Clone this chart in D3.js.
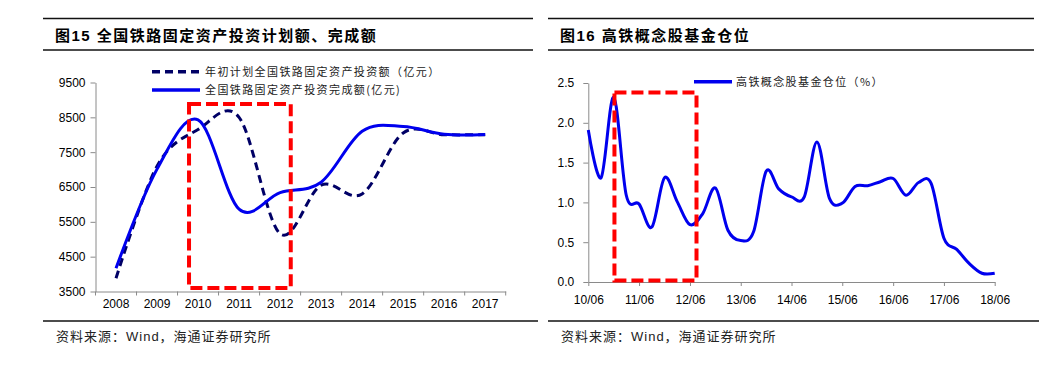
<!DOCTYPE html>
<html><head><meta charset="utf-8">
<script src="https://cdn.jsdelivr.net/npm/d3@7"></script>
<style>
body{margin:0;background:#fff;}
svg{display:block;}
.tick text{font-family:"Liberation Sans",Arial,sans-serif;font-size:12px;fill:#000;}
.axis path,.axis line{stroke:#8a8a8a;stroke-width:1;}
.ttl{font-family:"Liberation Sans","Noto Sans CJK SC",sans-serif;font-weight:bold;font-size:15px;letter-spacing:1.5px;fill:#000;}
.leg{font-family:"Noto Sans CJK SC",sans-serif;font-size:11px;letter-spacing:1.4px;fill:#222;}
.src{font-family:"Liberation Sans","Noto Sans CJK SC",sans-serif;font-size:13px;letter-spacing:1px;fill:#222;}
</style></head><body>
<svg id="c" width="1055" height="369"></svg>
<script>
// ---------- data: chart 15 ----------
const years = ["2008","2009","2010","2011","2012","2013","2014","2015","2016","2017"];
const planValues   = [3880, 7100, 8150, 8500, 5160, 6550, 6300, 8050, 8000, 8000];
const actualValues = [4168, 7013, 8427, 5863, 6340, 6638, 8100, 8238, 8015, 8010];
const leftYTicks = [3500, 4500, 5500, 6500, 7500, 8500, 9500];
const leftSeriesNames = ["年初计划全国铁路固定资产投资额（亿元）", "全国铁路固定资产投资完成额(亿元)"];
const leftBox = {from: ["2010", 0.28], to: ["2012", 0.76], top: 8880, bottom: 3600};

// ---------- data: chart 16 ----------
const quarters = ["2010-06","2010-09","2010-12",
  "2011-03","2011-06","2011-09","2011-12",
  "2012-03","2012-06","2012-09","2012-12",
  "2013-03","2013-06","2013-09","2013-12",
  "2014-03","2014-06","2014-09","2014-12",
  "2015-03","2015-06","2015-09","2015-12",
  "2016-03","2016-06","2016-09","2016-12",
  "2017-03","2017-06","2017-09","2017-12",
  "2018-03","2018-06"];
const positions = [1.91,1.31,2.32, 1.09,0.98,0.69,1.31, 1.01,0.72,0.86,1.18, 0.65,0.52,0.63,1.39,
  1.17,1.07,1.07,1.76, 1.05,0.99,1.20,1.21, 1.26,1.30,1.09,1.25, 1.24,0.55,0.41,0.23, 0.11,0.11];
const rightXTicks = ["2010-06","2011-06","2012-06","2013-06","2014-06","2015-06","2016-06","2017-06","2018-06"];
const rightYTicks = [0, 0.5, 1.0, 1.5, 2.0, 2.5];
const rightSeriesName = "高铁概念股基金仓位（%）";
const rightBox = {from: "2010-12-06", to: "2012-07-18", top: 2.38, bottom: 0.02};

const titles = ["图15 全国铁路固定资产投资计划额、完成额", "图16 高铁概念股基金仓位"];
const sourceText = "资料来源：Wind，海通证券研究所";

// ---------- drawing ----------
const svg = d3.select("#c");
const BLUE = "#0000ee", NAVY = "#000066", RED = "#ff0000";

// frames: titles + rules
[[43, 533, 55], [548, 1034, 560]].forEach(([x0, x1, tx], i) => {
  svg.append("line").attr("x1", x0).attr("x2", x1).attr("y1", 18.5).attr("y2", 18.5).attr("stroke", "#111").attr("stroke-width", 1.3);
  svg.append("line").attr("x1", x0).attr("x2", x1).attr("y1", 50).attr("y2", 50).attr("stroke", "#111").attr("stroke-width", 1.3);
  svg.append("text").attr("class", "ttl").attr("x", tx).attr("y", 41).text(titles[i]);
  svg.append("line").attr("x1", x0).attr("x2", x1 + 5).attr("y1", 321).attr("y2", 321).attr("stroke", "#111").attr("stroke-width", 1.3);
  svg.append("text").attr("class", "src").attr("x", tx + 1).attr("y", 341).text(sourceText);
});

// ----- left chart -----
const xL = d3.scaleBand().domain(years).range([95.5, 505.7]);
const yL = d3.scaleLinear().domain([3500, 9500]).range([291.5, 82.5]);
const gL = svg.append("g");

gL.append("g").attr("class", "axis").attr("transform", `translate(${xL.range()[0]},0)`)
  .call(d3.axisLeft(yL).tickValues(leftYTicks).tickFormat(d3.format("d")).tickSize(5).tickPadding(5).tickSizeOuter(0));
const xAxL = gL.append("g").attr("class", "axis").attr("transform", `translate(0,${yL.range()[0]})`)
  .call(d3.axisBottom(xL).tickSize(0).tickPadding(8).tickSizeOuter(0));
const edges = years.map(d => xL(d)).concat([xL.range()[1]]);
xAxL.selectAll(".edge").data(edges).enter().append("line").attr("class", "edge")
  .attr("x1", d => d).attr("x2", d => d).attr("y1", 0).attr("y2", 4).attr("stroke", "#8a8a8a");

const cx = d => xL(d) + xL.bandwidth() / 2;
const lineL = d3.line().x(d => cx(d[0])).y(d => yL(d[1])).curve(d3.curveCardinal.tension(0));
gL.append("path").datum(years.map((y, i) => [y, planValues[i]]))
  .attr("d", lineL).attr("fill", "none").attr("stroke", NAVY).attr("stroke-width", 3).attr("stroke-dasharray", "8,5");
gL.append("path").datum(years.map((y, i) => [y, actualValues[i]]))
  .attr("d", lineL).attr("fill", "none").attr("stroke", BLUE).attr("stroke-width", 3);

// highlight box (left)
{
  const bx0 = xL(leftBox.from[0]) + leftBox.from[1] * xL.bandwidth();
  const bx1 = xL(leftBox.to[0]) + leftBox.to[1] * xL.bandwidth();
  gL.append("rect").attr("x", bx0).attr("y", yL(leftBox.top)).attr("width", bx1 - bx0)
    .attr("height", yL(leftBox.bottom) - yL(leftBox.top))
    .attr("fill", "none").attr("stroke", RED).attr("stroke-width", 4).attr("stroke-dasharray", "12,5");
}

// left legend
[[71.7, NAVY, "8,5"], [90, BLUE, null]].forEach(([ly, col, dash], i) => {
  const l = gL.append("line").attr("x1", 152).attr("x2", 200).attr("y1", ly).attr("y2", ly)
    .attr("stroke", col).attr("stroke-width", 3.5);
  if (dash) l.attr("stroke-dasharray", dash);
  gL.append("text").attr("class", "leg").attr("x", 205).attr("y", ly).attr("dy", "0.36em").text(leftSeriesNames[i]);
});

// ----- right chart -----
const parse = d3.timeParse("%Y-%m");
const parseD = d3.timeParse("%Y-%m-%d");
const xR = d3.scaleTime().domain([parse("2010-06"), parse("2018-06")]).range([588.3, 994.7]);
const yR = d3.scaleLinear().domain([0, 2.5]).range([282, 83]);
const gR = svg.append("g");

gR.append("g").attr("class", "axis").attr("transform", `translate(${xR.range()[0]},0)`)
  .call(d3.axisLeft(yR).tickValues(rightYTicks).tickFormat(d3.format(".1f")).tickSize(5).tickPadding(9).tickSizeOuter(0));
gR.append("g").attr("class", "axis").attr("transform", `translate(0,${yR.range()[0]})`)
  .call(d3.axisBottom(xR).tickValues(rightXTicks.map(parse)).tickFormat(d3.timeFormat("%y/%m"))
    .tickSize(4).tickPadding(9.5).tickSizeOuter(0));

const lineR = d3.line().x(d => xR(d[0])).y(d => yR(d[1])).curve(d3.curveCardinal.tension(0));
gR.append("path").datum(quarters.map((q, i) => [parse(q), positions[i]]))
  .attr("d", lineR).attr("fill", "none").attr("stroke", BLUE).attr("stroke-width", 3);

{
  const bx0 = xR(parseD(rightBox.from)), bx1 = xR(parseD(rightBox.to));
  gR.append("rect").attr("x", bx0).attr("y", yR(rightBox.top)).attr("width", bx1 - bx0)
    .attr("height", yR(rightBox.bottom) - yR(rightBox.top))
    .attr("fill", "none").attr("stroke", RED).attr("stroke-width", 4).attr("stroke-dasharray", "12,5");
}

gR.append("line").attr("x1", 694).attr("x2", 732).attr("y1", 81.7).attr("y2", 81.7)
  .attr("stroke", BLUE).attr("stroke-width", 3.5);
gR.append("text").attr("class", "leg").attr("x", 736).attr("y", 81.7).attr("dy", "0.36em").text(rightSeriesName);
</script>
</body></html>
